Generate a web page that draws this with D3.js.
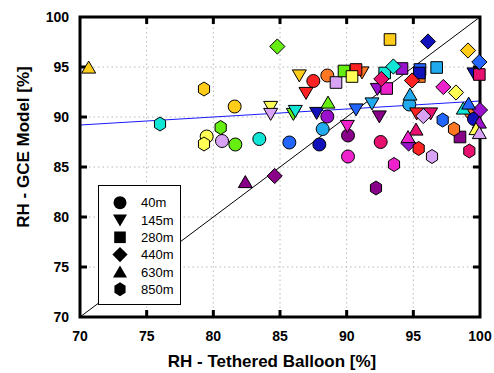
<!DOCTYPE html>
<html>
<head>
<meta charset="utf-8">
<script src="https://d3js.org/d3.v7.min.js"></script>
<style>
body { margin: 0; background: #fff; }
text { font-family: Arial, "Liberation Sans", sans-serif; }
</style>
</head>
<body>
<script>
var w = 494, h = 373;
var margin = {left: 80, right: 14, top: 17, bottom: 56};

var xTicks = [70, 75, 80, 85, 90, 95, 100];
var yTicks = [70, 75, 80, 85, 90, 95, 100];

// one colour per sounding day
var dayColors = ["#ffcc1a", "#ffff55", "#11e5d5", "#66ee11", "#d9a3f5", "#ff2222", "#ff7722",
                 "#2266ff", "#22aaee", "#1111bb", "#9911cc", "#880088", "#ee22cc", "#e8106e"];

// [balloon RH, model RH, day]
var pts40 = [
  [81.6, 91.05, 0], [79.5, 88.05, 1], [80.65, 87.6, 4], [81.65, 87.25, 3], [83.45, 87.8, 2],
  [87.5, 93.6, 5], [88.55, 94.15, 6], [88.55, 90.05, 10], [88.2, 88.8, 8], [85.7, 87.45, 7],
  [87.95, 87.25, 9], [90.1, 88.15, 11], [92.55, 87.5, 13], [90.1, 86.05, 12], [94.7, 91.25, 8],
  [99.35, 90.4, 6], [99.55, 89.8, 9]
];
var pts145 = [
  [84.3, 91.0, 1], [84.3, 90.3, 4], [86.45, 94.15, 0], [86.95, 92.4, 5], [86.0, 90.3, 3],
  [86.15, 90.6, 2], [91.15, 94.45, 6], [92.3, 92.8, 10], [87.75, 90.4, 9], [90.7, 90.75, 7],
  [91.9, 91.35, 8], [90.05, 89.1, 12], [92.45, 90.05, 11], [95.25, 90.35, 5], [96.3, 90.35, 13],
  [99.55, 94.35, 9]
];
var pts280 = [
  [89.2, 93.45, 4], [90.7, 94.75, 5], [89.8, 94.6, 3], [90.4, 94.05, 1], [93.25, 97.75, 0],
  [92.85, 94.4, 2], [94.15, 94.85, 10], [93.0, 92.85, 12], [95.45, 94.05, 6], [95.5, 94.75, 7],
  [95.45, 94.4, 9], [96.75, 94.95, 8], [99.95, 94.25, 13], [98.5, 88.0, 11]
];
var pts440 = [
  [84.8, 97.05, 3], [96.1, 97.55, 9], [99.1, 96.65, 0], [93.5, 95.05, 2], [92.6, 93.8, 13],
  [94.9, 93.65, 5], [97.25, 93.0, 12], [98.2, 92.45, 1], [99.95, 95.5, 7], [95.75, 90.1, 4],
  [94.65, 87.35, 10], [100.0, 90.7, 10], [84.6, 84.1, 11]
];
var pts630 = [
  [70.65, 94.95, 0], [88.6, 91.45, 3], [94.75, 92.25, 8], [95.2, 88.75, 13], [94.6, 88.0, 12],
  [98.75, 90.85, 2], [99.15, 91.35, 7], [99.95, 89.45, 10], [99.7, 88.8, 1], [99.95, 88.4, 4],
  [82.4, 83.5, 11]
];
var pts850 = [
  [79.3, 92.8, 0], [76.0, 89.3, 2], [80.55, 88.95, 3], [79.3, 87.3, 1], [93.55, 85.25, 12],
  [97.2, 89.7, 7], [98.05, 88.8, 6], [99.2, 86.6, 13], [95.4, 86.85, 5], [96.4, 86.05, 4],
  [92.2, 82.9, 11]
];

var levels = ["40m", "145m", "280m", "440m", "630m", "850m"];
var levelShapes = ["circle", "tridown", "square", "diamond", "triup", "hexagon"];
var levelData = [pts40, pts145, pts280, pts440, pts630, pts850];

// linear fit through all points
var fitLine = [[70, 89.2], [100, 91.6]];

var x = d3.scaleLinear().domain([70, 100]).range([margin.left, w - margin.right]);
var y = d3.scaleLinear().domain([70, 100]).range([h - margin.bottom, margin.top]);
var color = d3.scaleOrdinal().domain(d3.range(dayColors.length)).range(dayColors);

var svg = d3.select("body").append("svg")
  .attr("width", w)
  .attr("height", h);

// marker outlines, centred on the point
function shapePath(type) {
  switch (type) {
    case "circle":
      return d3.symbol(d3.symbolCircle, Math.PI * 6.5 * 6.5)();
    case "square":
      return "M-5.8,-5.8H5.8V5.8H-5.8Z";
    case "diamond":
      return "M0,-7.6L7.6,0L0,7.6L-7.6,0Z";
    case "triup":
      return "M0,-6.4L7,5.6L-7,5.6Z";
    case "tridown":
      return "M0,6.4L7,-5.6L-7,-5.6Z";
    case "hexagon":
      var r = 7, p = [];
      for (var i = 0; i < 6; i++) {
        var a = Math.PI / 3 * i - Math.PI / 2;
        p.push([r * Math.cos(a) * 0.92, r * Math.sin(a)]);
      }
      return "M" + p.join("L") + "Z";
  }
}

// grid
var grid = svg.append("g");
grid.selectAll(".gx").data(xTicks.slice(1, -1)).enter().append("line")
  .attr("x1", function(d) { return x(d); }).attr("x2", function(d) { return x(d); })
  .attr("y1", y(70)).attr("y2", y(100));
grid.selectAll(".gy").data(yTicks.slice(1, -1)).enter().append("line")
  .attr("y1", function(d) { return y(d); }).attr("y2", function(d) { return y(d); })
  .attr("x1", x(70)).attr("x2", x(100));
grid.selectAll("line")
  .attr("stroke", "#b8b8b8")
  .attr("stroke-width", 1)
  .attr("stroke-dasharray", "1.5,3");

// 1:1 line
svg.append("line")
  .attr("x1", x(70)).attr("y1", y(70))
  .attr("x2", x(100)).attr("y2", y(100))
  .attr("stroke", "#000")
  .attr("stroke-width", 1);

// fit line
svg.append("path")
  .datum(fitLine)
  .attr("d", d3.line().x(function(d) { return x(d[0]); }).y(function(d) { return y(d[1]); }))
  .attr("stroke", "#1a1aff")
  .attr("stroke-width", 1)
  .attr("fill", "none");

// legend
var lg = svg.append("g");
lg.append("rect")
  .attr("x", 98.5).attr("y", 185.5)
  .attr("width", 82).attr("height", 119)
  .attr("fill", "#fff")
  .attr("stroke", "#000")
  .attr("stroke-width", 1);
levels.forEach(function(name, i) {
  var ly = 202.7 + i * 17.3;
  lg.append("path")
    .attr("d", shapePath(levelShapes[i]))
    .attr("transform", "translate(120," + ly + ")")
    .attr("fill", "#000");
  lg.append("text")
    .text(name)
    .attr("x", 141)
    .attr("y", ly + 4.6)
    .attr("font-size", 13)
    .attr("fill", "#000");
});

// frame + ticks on all four sides
var tl = 7;
var axes = svg.append("g").attr("stroke", "#000").attr("stroke-width", 3);
xTicks.slice(1, -1).forEach(function(t) {
  axes.append("line").attr("x1", x(t)).attr("x2", x(t)).attr("y1", y(70)).attr("y2", y(70) - tl);
  axes.append("line").attr("x1", x(t)).attr("x2", x(t)).attr("y1", y(100)).attr("y2", y(100) + tl);
});
yTicks.slice(1, -1).forEach(function(t) {
  axes.append("line").attr("y1", y(t)).attr("y2", y(t)).attr("x1", x(70)).attr("x2", x(70) + tl);
  axes.append("line").attr("y1", y(t)).attr("y2", y(t)).attr("x1", x(100)).attr("x2", x(100) - tl);
});
axes.append("rect")
  .attr("x", x(70)).attr("y", y(100))
  .attr("width", x(100) - x(70)).attr("height", y(70) - y(100))
  .attr("fill", "none");

// points
levelData.forEach(function(pts, i) {
  svg.append("g").selectAll("path").data(pts).enter().append("path")
    .attr("d", shapePath(levelShapes[i]))
    .attr("transform", function(d) { return "translate(" + x(d[0]) + "," + y(d[1]) + ")"; })
    .attr("fill", function(d) { return color(d[2]); })
    .attr("stroke", "#000")
    .attr("stroke-width", 1);
});

// tick labels
svg.append("g").selectAll("text").data(xTicks).enter().append("text")
  .text(function(d) { return d; })
  .attr("x", function(d) { return x(d); })
  .attr("y", 341)
  .attr("text-anchor", "middle")
  .attr("font-size", 14)
  .attr("font-weight", "bold");
svg.append("g").selectAll("text").data(yTicks).enter().append("text")
  .text(function(d) { return d; })
  .attr("x", 69)
  .attr("y", function(d) { return y(d) + 5; })
  .attr("text-anchor", "end")
  .attr("font-size", 14)
  .attr("font-weight", "bold");

// axis titles
svg.append("text")
  .text("RH - Tethered Balloon [%]")
  .attr("x", 272)
  .attr("y", 367)
  .attr("text-anchor", "middle")
  .attr("font-size", 17)
  .attr("font-weight", "bold");
svg.append("text")
  .text("RH - GCE Model [%]")
  .attr("transform", "translate(29,147) rotate(-90)")
  .attr("text-anchor", "middle")
  .attr("font-size", 17)
  .attr("font-weight", "bold");
</script>
</body>
</html>
